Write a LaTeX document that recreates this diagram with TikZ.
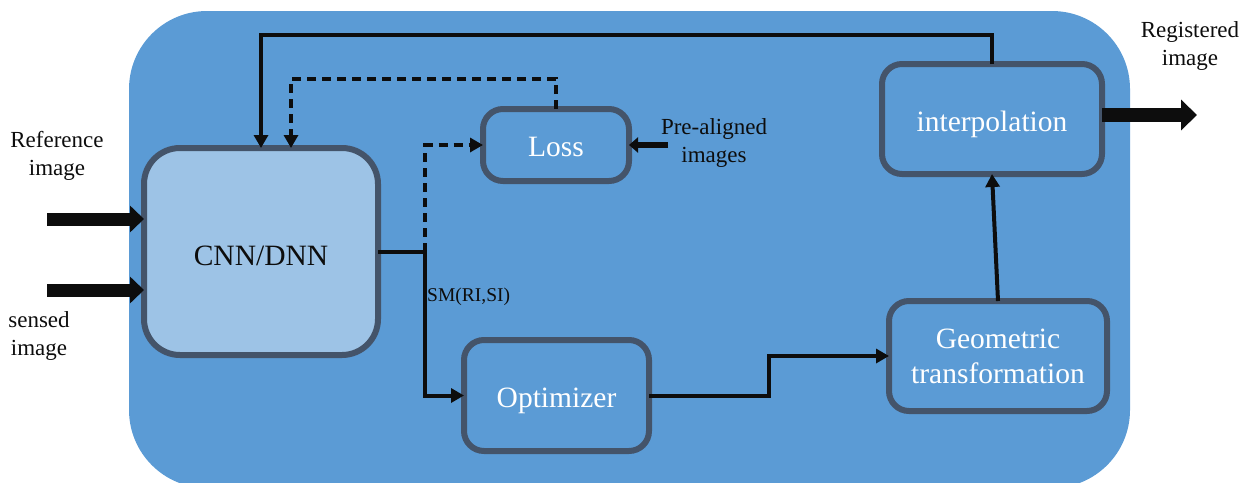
\documentclass[tikz,border=0pt]{standalone}
\usepackage{fontspec}
\setmainfont{Liberation Serif}
\newfontfamily\tnr{Liberation Serif}
\usetikzlibrary{arrows.meta}
\definecolor{bgblue}{HTML}{5B9BD5}
\definecolor{lightblue}{HTML}{9DC3E6}
\definecolor{bordergray}{HTML}{44546A}
\definecolor{ink}{HTML}{0D0D0D}
\newcommand{\lowertext}[2]{\raisebox{-#1}[\height][\depth]{#2}}
\tikzset{
  box/.style={draw=bordergray, line width=6pt, fill=bgblue, rounded corners=20pt,
    text=white, align=center, inner sep=0pt, outer sep=0pt,
    font=\tnr\fontsize{29.5}{35}\selectfont},
  conn/.style={draw=ink, line width=4pt, -{Triangle[length=13pt,width=14pt]}},
  dconn/.style={conn, dash pattern=on 9pt off 6pt},
  plainline/.style={draw=ink, line width=4pt},
  fatarrow/.style={draw=ink, line width=13pt, -{Triangle[length=14pt,width=26pt]}},
  hugearrow/.style={draw=ink, line width=14pt, -{Triangle[length=16pt,width=30pt]}},
  midarrow/.style={draw=ink, line width=6pt, -{Triangle[length=9pt,width=15pt]}},
  lbl/.style={text=ink, align=center, inner sep=0pt, font=\tnr\fontsize{23}{28}\selectfont},
}
\begin{document}
\begin{tikzpicture}[x=1pt,y=-1pt]
\path[use as bounding box] (0,0) rectangle (1247,482);
\fill[bgblue, rounded corners=78pt] (129,11) rectangle (1130,488);

% nodes
\node[box, fill=lightblue, text=ink, rounded corners=36pt, minimum width=234pt, minimum height=207pt] (cnn) at (261,251.5) {\lowertext{4pt}{CNN/DNN}};
\node[box, minimum width=146pt, minimum height=72pt] (loss) at (556,145) {\lowertext{1.5pt}{Loss}};
\node[box, minimum width=185pt, minimum height=111pt] (opt) at (556.5,395.5) {\lowertext{5pt}{Optimizer}};
\node[box, minimum width=218pt, minimum height=110pt] (geo) at (998,356) {Geometric\\transformation};
\node[box, minimum width=220pt, minimum height=110pt] (interp) at (992,119) {\lowertext{5pt}{interpolation}};

% labels
\node[lbl] (reflbl) at (57,156) {Reference\\image};
\node[lbl] (senlbl) at (39,336) {sensed\\image};
\node[lbl] (reglbl) at (1190,46) {Registered\\image};
\node[lbl] (prelbl) at (714,143) {Pre-aligned\\images};
\node[text=ink, inner sep=0pt, anchor=west, font=\tnr\fontsize{19.5}{23}\selectfont] (smlbl) at (427,297) {SM(RI,SI)};

% coordinates
\coordinate (j) at (425,251.5);
\coordinate (d1) at (291,79);
\coordinate (s1) at (261,35);
\coordinate (pa) at (668,145);
\coordinate (k) at (769,356);
\coordinate (out) at (1197,115);
\coordinate (in1) at (47,219);
\coordinate (in2) at (47,290);

% input arrows
\draw[fatarrow] (in1) -- (in1 -| cnn.west);
\draw[fatarrow] (in2) -- (in2 -| cnn.west);

% CNN output
\draw[plainline] (cnn.east) -- (j);
\draw[conn] (j) |- (opt.west);
\draw[dconn] (j) |- (loss.west);

% feedback from loss (dashed)
\draw[dconn] (loss.north) |- (d1) -- (d1 |- cnn.north);
% feedback from interpolation (solid)
\draw[conn] (interp.north) |- (s1) -- (cnn.north);

% pre-aligned
\draw[midarrow] (pa) -- (loss.east);

% optimizer to geometric
\draw[conn] (opt.east) -| (k) -- (geo.west);

% geometric to interpolation
\draw[conn] (geo.north) -- (interp.south);

% output
\draw[hugearrow] (interp.east |- out) -- (out);
\end{tikzpicture}
\end{document}
